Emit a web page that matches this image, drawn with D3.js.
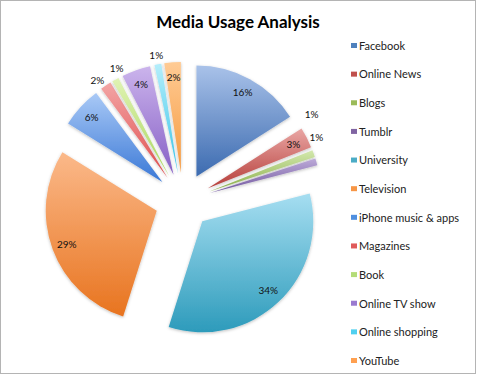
<!DOCTYPE html>
<html>
<head>
<meta charset="utf-8">
<script src="https://cdn.jsdelivr.net/npm/d3@7"></script>
<style>
  body { margin: 0; background: #fff; }
  text { font-family: Lato, "Open Sans", sans-serif; }
</style>
</head>
<body>
<svg id="chart"></svg>
<script>
// Data
var categories = ["Facebook", "Online News", "Blogs", "Tumblr", "University", "Television",
    "iPhone music & apps", "Magazines", "Book", "Online TV show", "Online shopping", "YouTube"];
var usage = [16, 3, 1, 1, 34, 29, 6, 1.6, 1, 4.2, 1, 2.4];
var lightColors = ["#a9c2e9", "#e9a6a4", "#d3e8ad", "#bcaad8", "#a6def1", "#fbb98a",
    "#a9c9f6", "#f3a5a5", "#e0f3b4", "#cbb4ec", "#b4eefb", "#ffcb94"];
var darkColors = ["#3c6bb0", "#b63e3a", "#89ae48", "#70559e", "#2d9bbb", "#e8741f",
    "#3a78d6", "#df4e4e", "#a8d65c", "#8760c6", "#36c3e8", "#f59a40"];
var keyColors = ["#4f81bd", "#c0504d", "#9bbb59", "#8064a2", "#4bacc6", "#f79646",
    "#4f8fe0", "#e05a5a", "#b4dc78", "#9a7ad0", "#50d0f0", "#ffa050"];

var width = 477, height = 375;
var cx = 183, cy = 201, radius = 111, explode = 28;

var svg = d3.select("#chart").attr("width", width).attr("height", height);

// frame
svg.append("rect")
    .attr("x", 0.5).attr("y", 0.5)
    .attr("width", 475).attr("height", 373)
    .attr("fill", "#fff")
    .attr("stroke", "#b4b4b4");

var defs = svg.append("defs");
var shadow = defs.append("filter").attr("id", "shadow")
    .attr("x", "-20%").attr("y", "-20%").attr("width", "140%").attr("height", "140%");
shadow.append("feDropShadow")
    .attr("dx", 0).attr("dy", 1).attr("stdDeviation", 1.5)
    .attr("flood-color", "#000").attr("flood-opacity", 0.25);

categories.forEach(function (c, i) {
    var g = defs.append("linearGradient").attr("id", "grad" + i)
        .attr("x1", 0).attr("y1", 0).attr("x2", 0).attr("y2", 1);
    g.append("stop").attr("offset", "0%").attr("stop-color", lightColors[i]);
    g.append("stop").attr("offset", "100%").attr("stop-color", darkColors[i]);
});

svg.append("text")
    .attr("x", 238).attr("y", 28)
    .attr("text-anchor", "middle")
    .attr("font-size", 17).attr("font-weight", "bold")
    .attr("fill", "#000")
    .text("Media Usage Analysis");

var total = d3.sum(usage);
var pie = d3.pie().sort(null).value(function (d) { return d; });
var arcs = pie(usage);

var arc = d3.arc().innerRadius(0).outerRadius(radius);
var inLabel = d3.arc().innerRadius(96).outerRadius(96);

function midAngle(d) { return (d.startAngle + d.endAngle) / 2; }
function shift(d) {
    var a = midAngle(d);
    return [cx + explode * Math.sin(a), cy - explode * Math.cos(a)];
}

var slices = svg.append("g").attr("class", "slices")
    .selectAll("g").data(arcs).enter().append("g")
    .attr("transform", function (d) { var p = shift(d); return "translate(" + p[0] + "," + p[1] + ")"; });

slices.append("path")
    .attr("d", arc)
    .attr("fill", function (d, i) { return "url(#grad" + i + ")"; })
    .attr("filter", "url(#shadow)");

// labels: inside if the slice is big enough, otherwise outside (a few spread apart)
var nudge = { "Blogs": -17, "Tumblr": -11, "Magazines": -2, "Book": 3 };
var outR = { "Blogs": 128 };
slices.append("text")
    .attr("transform", function (d, i) {
        var pct = d.value / total * 100;
        if (pct >= 2.2) return "translate(" + inLabel.centroid(d) + ")";
        var a = midAngle(d) + (nudge[categories[i]] || 0) * Math.PI / 180;
        var r = outR[categories[i]] || 120;
        return "translate(" + (r * Math.sin(a)) + "," + (-r * Math.cos(a)) + ")";
    })
    .attr("text-anchor", "middle")
    .attr("dy", "0.35em")
    .attr("font-size", 10)
    .attr("fill", "#111")
    .text(function (d) { return Math.round(d.value / total * 100) + "%"; });

// legend
var legendY = d3.scalePoint().domain(categories).range([46, 361]);
var legend = svg.append("g").attr("class", "legend")
    .selectAll("g").data(categories).enter().append("g")
    .attr("transform", function (d) { return "translate(351," + legendY(d) + ")"; });

legend.append("rect")
    .attr("x", 0).attr("y", -3).attr("width", 6).attr("height", 5)
    .attr("fill", function (d, i) { return keyColors[i]; });

legend.append("text")
    .attr("x", 8).attr("dy", "0.35em")
    .attr("font-size", 11)
    .attr("fill", "#222")
    .text(function (d) { return d; });
</script>
</body>
</html>
